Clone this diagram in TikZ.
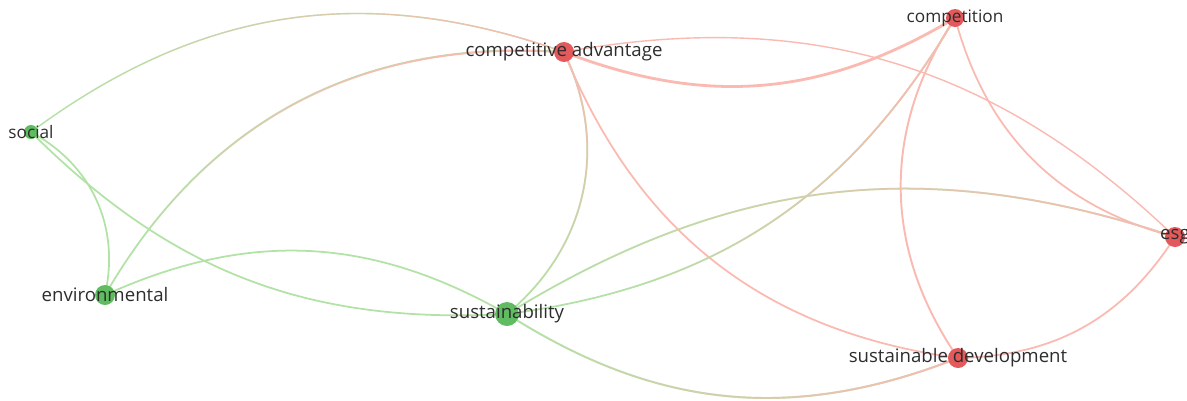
\documentclass[tikz,border=0pt]{standalone}
\usepackage{fontspec}
\setmainfont{Open Sans}
\usetikzlibrary{positioning, fadings}
\definecolor{kwgreen}{RGB}{96,188,96}
\definecolor{kwred}{RGB}{228,90,92}
\definecolor{lgreen}{RGB}{178,226,166}
\definecolor{lred}{RGB}{250,186,178}
\definecolor{txtgray}{RGB}{45,45,45}
\pgfdeclarelayer{background}
\pgfsetlayers{background,main}

\begin{document}
\begin{tikzpicture}[x=0.02cm, y=-0.02cm,
    kwg/.style={circle, inner sep=0pt, fill=kwgreen},
    kwr/.style={circle, inner sep=0pt, fill=kwred},
    lbl/.style={inner sep=0pt, text=txtgray, font=\fontsize{10.6}{10}\selectfont},
    small/.style={lbl, font=\fontsize{9.8}{9}\selectfont}]
    \useasboundingbox (0,0) rectangle (1187,400);
    % keywords
    \node[kwg, minimum size=0.28cm, label={[small]center:social}] (social) at (31,132) {};
    \node[kwg, minimum size=0.4cm, label={[lbl]center:environmental}] (envir) at (105,295) {};
    \node[kwg, minimum size=0.48cm, label={[lbl]center:sustainability}] (sustain) at (507,314) {};
    \node[kwr, minimum size=0.4cm, label={[lbl]center:competitive advantage}] (capadv) at (564,52) {};
    \node[kwr, minimum size=0.36cm, label={[small]center:competition}] (compet) at (955,18) {};
    \node[kwr, minimum size=0.4cm, label={[lbl]center:esg}] (esg) at (1175,237) {};
    \node[kwr, minimum size=0.4cm, label={[lbl]center:sustainable development}] (sustdev) at (958,358) {};
    % links
    \begin{pgfonlayer}{background}
    \foreach \a/\b/\c/\t/\w in {social/envir/lgreen/37/1, social/sustain/lgreen/-24/1,
        envir/sustain/lgreen/27/1, capadv/compet/lred/-26/1.6, capadv/esg/lred/27/0.8,
        capadv/sustdev/lred/-30/1, compet/esg/lred/-30/1, compet/sustdev/lred/-34/1.1,
        esg/sustdev/lred/28/1} {
        \draw[\c, line width=\w pt] (\a.center) to[bend left=\t] (\b.center);
    }
    % green-to-red links
    \foreach \a/\b/\t/\w/\f in {social/capadv/28/0.8/0, envir/capadv/32/1/45,
        sustain/capadv/-38/1/90, sustain/compet/-26/1/45, sustain/esg/25/1/0,
        sustain/sustdev/-27/1.1/0} {
        \draw[lgreen, line width=\w pt] (\a.center) to[bend left=\t] (\b.center);
        \draw[lred, line width=\w pt, path fading=west, fading angle=\f] (\a.center) to[bend left=\t] (\b.center);
    }
    \end{pgfonlayer}
\end{tikzpicture}
\end{document}
